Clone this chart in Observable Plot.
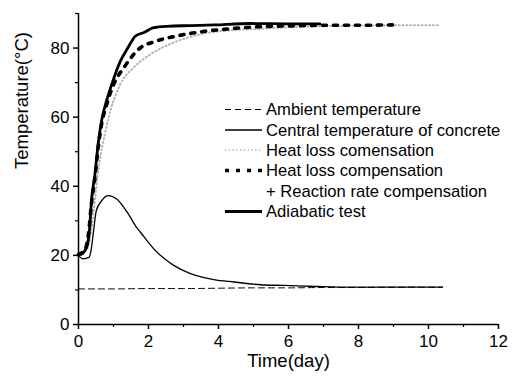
<!DOCTYPE html>
<html>
<head>
<meta charset="utf-8">
<script src="https://cdn.jsdelivr.net/npm/d3@7"></script>
<script src="https://cdn.jsdelivr.net/npm/@observablehq/plot@0.6"></script>
<style>
  html, body { margin: 0; padding: 0; background: #fff; }
  #chart { width: 516px; height: 378px; }
</style>
</head>
<body>
<div id="chart"></div>
<script>
// ---- data ----
const seriesNames = [
  "Ambient temperature",
  "Central temperature of concrete",
  "Heat loss comensation",
  "Heat loss compensation",
  "Adiabatic test"
];
const legendExtraLine = "+ Reaction rate compensation";

const ambientT = [0, 1, 2, 3, 4, 5, 6, 7, 8, 9, 10, 10.4];
const ambientV = [10.3, 10.3, 10.4, 10.4, 10.5, 10.6, 10.6, 10.7, 10.7, 10.8, 10.8, 10.8];

const centralT = [0, 0.13, 0.3, 0.36, 0.42, 0.51, 0.66, 0.85, 1.09, 1.39, 1.66, 1.77, 2.15, 2.72, 3.2, 3.87, 4.44, 5.2, 5.87, 6.8, 7.77, 9, 10.4];
const centralV = [20.0, 19.0, 19.4, 21.5, 26.2, 33.0, 35.8, 37.3, 36.3, 32.5, 28.1, 26.7, 21.9, 17.1, 14.7, 13.0, 12.3, 11.5, 11.3, 11.0, 10.8, 10.8, 10.8];

const heatLossT = [0, 0.2, 0.3, 0.4, 0.5, 0.6, 0.75, 0.85, 0.91, 1.2, 1.58, 2.06, 2.72, 3.49, 4.44, 5.1, 6, 7, 8, 9, 10.34];
const heatLossV = [20.2, 21.3, 23.5, 30, 39, 47, 55, 59.5, 61.8, 69.6, 74.4, 78.2, 81.6, 84.0, 85.2, 85.5, 86.0, 86.3, 86.5, 86.6, 86.6];

const heatRateT = [0, 0.2, 0.3, 0.37, 0.47, 0.56, 0.66, 0.8, 1.01, 1.3, 1.77, 2.15, 2.82, 3.49, 4.25, 5.0, 6, 7, 8, 9];
const heatRateV = [20.2, 22.0, 27.5, 35.0, 42.5, 51.0, 58.0, 63.5, 69.6, 74.4, 80.1, 81.8, 83.5, 84.7, 85.5, 86.1, 86.4, 86.6, 86.6, 86.7];

const adiabaticT = [0, 0.04, 0.23, 0.32, 0.37, 0.47, 0.56, 0.66, 0.8, 0.95, 1.2, 1.39, 1.63, 1.87, 2.15, 2.53, 3.2, 3.87, 4.91, 6.0, 6.9];
const adiabaticV = [20.2, 20.2, 22.3, 28.1, 35.8, 43.5, 52.2, 59.0, 64.7, 69.5, 76.3, 79.7, 83.5, 84.5, 85.9, 86.3, 86.5, 86.7, 87.1, 87.0, 87.0];

const xMajor = [0, 2, 4, 6, 8, 10, 12];
const xMinor = [1, 3, 5, 7, 9, 11];
const yMajor = [0, 20, 40, 60, 80];
const yMinor = [10, 30, 50, 70, 90];

const xTitle = "Time(day)";
const yTitle = "Temperature(°C)";

// ---- build ----
const toRows = (T, V) => T.map((t, i) => ({t, v: V[i]}));
const styles = [
  {stroke: "#000", strokeWidth: 1, strokeDasharray: "6,4"},
  {stroke: "#000", strokeWidth: 1.3},
  {stroke: "#b4b4b4", strokeWidth: 2, strokeDasharray: "1,2.8"},
  {stroke: "#000", strokeWidth: 3.6, strokeDasharray: "4,7"},
  {stroke: "#000", strokeWidth: 2.8}
];
const datasets = [
  toRows(ambientT, ambientV),
  toRows(centralT, centralV),
  toRows(heatLossT, heatLossV),
  toRows(heatRateT, heatRateV),
  toRows(adiabaticT, adiabaticV)
];

const font = "'Liberation Sans', Arial, Helvetica, sans-serif";

const plot = Plot.plot({
  width: 516,
  height: 378,
  marginLeft: 78,
  marginRight: 18,
  marginTop: 13,
  marginBottom: 54,
  style: {fontFamily: font, fontSize: "17px", background: "#fff", color: "#000"},
  x: {domain: [0, 12], label: null},
  y: {domain: [0, 90], label: null},
  marks: [
    ...datasets.map((d, i) => Plot.line(d, {x: "t", y: "v", curve: "monotone-x", strokeLinejoin: "round", ...styles[i]})),
    Plot.ruleY([0], {stroke: "#000", strokeWidth: 1.5}),
    Plot.ruleX([0], {stroke: "#000", strokeWidth: 1.5}),
    Plot.axisX({ticks: xMajor, tickSize: 5, tickPadding: 5, tickFormat: d => String(d), label: null, strokeWidth: 1.5}),
    Plot.axisX({ticks: xMinor, tickSize: 3, tickFormat: () => "", label: null, strokeWidth: 1.2}),
    Plot.axisY({ticks: yMajor, tickSize: 5, tickPadding: 4, tickFormat: d => String(d), label: null, strokeWidth: 1.5}),
    Plot.axisY({ticks: yMinor, tickSize: 3, tickFormat: () => "", label: null, strokeWidth: 1.2}),
    Plot.text([xTitle], {frameAnchor: "bottom", dy: 42, text: d => d, fontSize: 18.5}),
    Plot.text([yTitle], {frameAnchor: "left", dx: -56, rotate: -90, text: d => d, fontSize: 18.5})
  ]
});
document.getElementById("chart").appendChild(plot);

// ---- legend (drawn in the same SVG) ----
const svg = d3.select(plot);
const legendRows = [
  {name: seriesNames[0], style: styles[0], y: 109.5},
  {name: seriesNames[1], style: styles[1], y: 130},
  {name: seriesNames[2], style: styles[2], y: 150},
  {name: seriesNames[3], style: styles[3], y: 170.5},
  {name: legendExtraLine, style: null, y: 191.5},
  {name: seriesNames[4], style: styles[4], y: 211.5}
];
const lg = svg.append("g")
  .attr("font-family", font)
  .attr("font-size", "16.6px")
  .attr("text-anchor", "start");
legendRows.forEach(r => {
  if (r.style) {
    lg.append("line")
      .attr("x1", 225).attr("x2", 262).attr("y1", r.y).attr("y2", r.y)
      .attr("stroke", r.style.stroke)
      .attr("stroke-width", r.style.strokeWidth)
      .attr("stroke-dasharray", r.style.strokeDasharray || null);
  }
  lg.append("text").attr("x", 266).attr("y", r.y).attr("dy", "0.35em")
    .attr("text-anchor", "start")
    .attr("fill", "#000").text(r.name);
});
</script>
</body>
</html>
